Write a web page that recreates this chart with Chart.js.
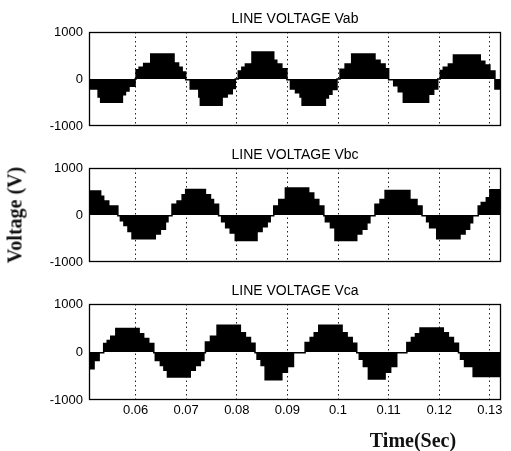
<!DOCTYPE html>
<html>
<head>
<meta charset="utf-8">
<script src="https://cdn.jsdelivr.net/npm/chart.js@4/dist/chart.umd.min.js"></script>
<style>
  body { margin: 0; background: #fff; }
  #wrap { position: relative; width: 511px; height: 451px; overflow: hidden; }
  .panel { position: absolute; left: 0; width: 511px; }
  .axis-label { position: absolute; font: bold 20px "Liberation Serif", "Times New Roman", serif; color: #111; white-space: nowrap; }
  #ylabel { left: 15px; top: 215px; transform: translate(-50%, -50%) rotate(-90deg); }
  #xlabel { left: 413px; top: 440px; transform: translate(-50%, -50%); }
</style>
</head>
<body>
<div id="wrap">
  <div class="panel" style="top:0;height:140px"><canvas id="vab"></canvas></div>
  <div class="panel" style="top:136px;height:140px"><canvas id="vbc"></canvas></div>
  <div class="panel" style="top:272px;height:179px"><canvas id="vca"></canvas></div>
  <div class="axis-label" id="ylabel">Voltage (V)</div>
  <div class="axis-label" id="xlabel">Time(Sec)</div>
</div>
<script>
// axis range and ticks
const xMin = 0.0508;
const xMax = 0.1322;
const timeTicks = [0.06, 0.07, 0.08, 0.09, 0.10, 0.11, 0.12, 0.13];
const voltTicks = [-1000, 0, 1000];
const panelTitles = ['LINE VOLTAGE Vab', 'LINE VOLTAGE Vbc', 'LINE VOLTAGE Vca'];

// stepped envelopes: level starts at each time
const vabTime = [0.0508, 0.0511, 0.0526, 0.0531, 0.0574, 0.0580, 0.0587, 0.0599,
  0.0601, 0.0607, 0.0616, 0.0630, 0.0676, 0.0685, 0.0692, 0.0699,
  0.0708, 0.0725, 0.0728, 0.0771, 0.0781, 0.0791, 0.0797,
  0.0803, 0.0810, 0.0817, 0.0830, 0.0873, 0.0879, 0.0889, 0.0899,
  0.0906, 0.0916, 0.0925, 0.0929, 0.0975, 0.0981, 0.0988, 0.0998,
  0.1004, 0.1014, 0.1027, 0.1073, 0.1083, 0.1093, 0.1100,
  0.1110, 0.1119, 0.1129, 0.1179, 0.1189, 0.1197,
  0.1202, 0.1208, 0.1218, 0.1228, 0.1281, 0.1290, 0.1300, 0.1310, 0.1322];
const vabVolt = [-120, -210, -380, -490, -330, -250, -150, 0,
  200, 250, 330, 535, 340, 250, 150, -15,
  -210, -380, -555, -380, -310, -200, 0,
  170, 250, 320, 575, 400, 320, 220, -15,
  -210, -290, -380, -555, -400, -320, -220, 0,
  210, 320, 535, 400, 320, 220, -15,
  -140, -270, -490, -320, -210, 0,
  180, 250, 320, 510, 380, 300, 170, -210, -210];

const vbcTime = [0.0508, 0.0531, 0.0537, 0.0547, 0.0565,
  0.0570, 0.0577, 0.0585, 0.0593, 0.0639, 0.0649, 0.0659, 0.0664,
  0.0672, 0.0682, 0.0692, 0.0699, 0.0738, 0.0748, 0.0754, 0.0764,
  0.0770, 0.0778, 0.0787, 0.0797, 0.0840, 0.0850, 0.0860, 0.0866,
  0.0873, 0.0883, 0.0896, 0.0942, 0.0952, 0.0962, 0.0972,
  0.0975, 0.0985, 0.0994, 0.1037, 0.1047, 0.1057, 0.1063,
  0.1073, 0.1083, 0.1093, 0.1142, 0.1156, 0.1166,
  0.1175, 0.1181, 0.1195, 0.1241, 0.1251, 0.1260, 0.1266,
  0.1277, 0.1283, 0.1293, 0.1300, 0.1322];
const vbcVolt = [510, 400, 300, 195, -15,
  -120, -220, -350, -500, -400, -300, -140, -15,
  230, 300, 430, 545, 430, 330, 230, -15,
  -140, -270, -380, -540, -350, -245, -140, -15,
  195, 330, 575, 470, 330, 195, -15,
  -140, -270, -540, -400, -300, -160, -15,
  230, 330, 520, 330, 195, -15,
  -140, -270, -500, -400, -300, -160, -15,
  195, 270, 370, 540, 540];

const vcaTime = [0.0508, 0.0518, 0.0528,
  0.0537, 0.0544, 0.0551, 0.0561, 0.0607, 0.0616, 0.0626, 0.0636,
  0.0639, 0.0649, 0.0656, 0.0663, 0.0708, 0.0718, 0.0728, 0.0735,
  0.0738, 0.0748, 0.0761, 0.0807, 0.0817, 0.0827, 0.0836,
  0.0840, 0.0848, 0.0856, 0.0889, 0.0900, 0.0912,
  0.0935, 0.0945, 0.0953, 0.0962, 0.1008, 0.1018, 0.1028, 0.1037,
  0.1042, 0.1050, 0.1060, 0.1093, 0.1104, 0.1116,
  0.1136, 0.1145, 0.1153, 0.1162, 0.1208, 0.1218, 0.1228, 0.1238,
  0.1242, 0.1250, 0.1267, 0.1322];
const vcaVolt = [-350, -175, -15,
  175, 240, 330, 490, 380, 280, 175, -15,
  -175, -280, -380, -520, -380, -280, -175, -15,
  210, 330, 555, 400, 300, 180, -15,
  -150, -280, -580, -420, -300, -15,
  200, 300, 400, 555, 400, 300, 180, -15,
  -150, -300, -560, -420, -300, -15,
  200, 300, 380, 500, 400, 300, 180, -15,
  -150, -300, -510, -510];

const tickFont = { family: '"Liberation Sans", Arial, sans-serif', size: 13 };

// title centred over the plot box, and the full frame round it
const panelDecor = {
  id: 'panelDecor',
  afterDraw(chart, args, opts) {
    const { ctx, chartArea } = chart;
    ctx.save();
    ctx.strokeStyle = '#000';
    ctx.lineWidth = 1.3;
    ctx.strokeRect(Math.round(chartArea.left) + 0.5, Math.round(chartArea.top) + 0.5,
      Math.round(chartArea.right - chartArea.left) - 1, Math.round(chartArea.bottom - chartArea.top) - 1);
    ctx.font = '14px "Liberation Sans", Arial, sans-serif';
    ctx.fillStyle = '#000';
    ctx.textAlign = 'center';
    ctx.textBaseline = 'middle';
    ctx.fillText(opts.text, (chartArea.left + chartArea.right) / 2, chartArea.top - 13);
    ctx.restore();
  }
};

function makePanel(id, title, times, volts, showTicks) {
  const points = times.map((t, i) => ({ x: t, y: volts[i] }));
  return new Chart(document.getElementById(id), {
    type: 'line',
    data: {
      datasets: [{
        data: points,
        stepped: 'before',
        fill: 'origin',
        backgroundColor: '#000',
        borderColor: '#000',
        borderWidth: 1.5,
        pointRadius: 0
      }]
    },
    options: {
      responsive: true,
      maintainAspectRatio: false,
      animation: false,
      layout: { padding: { top: 32, right: 10, bottom: showTicks ? 0 : 10, left: 0 } },
      plugins: {
        legend: { display: false },
        tooltip: { enabled: false },
        panelDecor: { text: title }
      },
      scales: {
        x: {
          type: 'linear',
          min: xMin,
          max: xMax,
          afterBuildTicks: s => { s.ticks = timeTicks.map(v => ({ value: v })); },
          afterFit: s => { s.height = showTicks ? 51 : 2; },
          ticks: {
            display: showTicks,
            font: tickFont,
            color: '#000',
            padding: 3,
            maxRotation: 0,
            autoSkip: false,
            callback: v => String(+v.toFixed(2))
          },
          grid: { color: '#222', lineWidth: 1, drawTicks: false },
          border: { display: false, dash: [1.5, 3] }
        },
        y: {
          min: -1000,
          max: 1000,
          afterBuildTicks: s => { s.ticks = voltTicks.map(v => ({ value: v })); },
          afterFit: s => { s.width = 89; },
          ticks: { font: tickFont, color: '#000', padding: 6, callback: v => String(v) },
          grid: { display: false, drawTicks: false },
          border: { display: false }
        }
      }
    },
    plugins: [panelDecor]
  });
}

makePanel('vab', panelTitles[0], vabTime, vabVolt, false);
makePanel('vbc', panelTitles[1], vbcTime, vbcVolt, false);
makePanel('vca', panelTitles[2], vcaTime, vcaVolt, true);
</script>
</body>
</html>
